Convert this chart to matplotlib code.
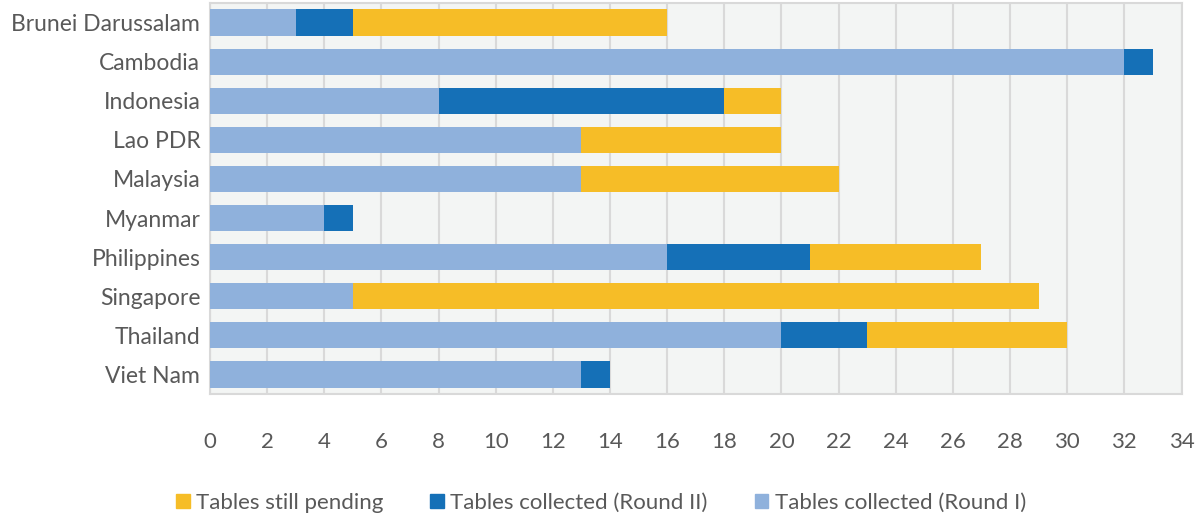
import matplotlib
matplotlib.use("Agg")
import matplotlib.pyplot as plt
from matplotlib.patches import Patch

countries = ["Brunei Darussalam", "Cambodia", "Indonesia", "Lao PDR", "Malaysia",
             "Myanmar", "Philippines", "Singapore", "Thailand", "Viet Nam"]
round1 = [3, 32, 8, 13, 13, 4, 16, 5, 20, 13]
round2 = [2, 1, 10, 0, 0, 1, 5, 0, 3, 1]
pending = [11, 0, 2, 7, 9, 0, 6, 24, 7, 0]
xticks = list(range(0, 35, 2))

c_r1 = "#8FB1DC"
c_r2 = "#1570B7"
c_pend = "#F6BD27"
txt = "#595959"
grid = "#D9D9D9"

plt.rcParams['font.family'] = ['Lato', 'DejaVu Sans']
fs = 16

fig = plt.figure(figsize=(11.95, 5.17), dpi=100)
ax = fig.add_axes([210/1195, 1-394/517, (1181.5-210)/1195, (394-3)/517])
ax.set_facecolor("#F3F5F4")

y = list(range(len(countries)))
left2 = [a for a in round1]
left3 = [a + b for a, b in zip(round1, round2)]
h = 0.67
ax.barh(y, round1, height=h, color=c_r1, zorder=3)
ax.barh(y, round2, left=left2, height=h, color=c_r2, zorder=3)
ax.barh(y, pending, left=left3, height=h, color=c_pend, zorder=3)

ax.set_ylim(len(countries) - 0.5, -0.5)
ax.set_xlim(0, 34)
ax.set_xticks(xticks)
ax.set_xticklabels([str(t) for t in xticks])
ax.set_yticks(y)
ax.set_yticklabels(countries)
ax.xaxis.grid(True, color=grid, linewidth=1.5, zorder=0)
ax.set_axisbelow(True)
for s in ax.spines.values():
    s.set_color(grid)
    s.set_linewidth(1.5)
ax.tick_params(axis='x', length=0, pad=27, labelsize=fs, labelcolor=txt)
ax.tick_params(axis='y', length=0, pad=7, labelsize=16.5, labelcolor=txt)

handles = [Patch(color=c_pend, label="Tables still pending"),
           Patch(color=c_r2, label="Tables collected (Round II)"),
           Patch(color=c_r1, label="Tables collected (Round I)")]
leg = fig.legend(handles=handles, loc='center', bbox_to_anchor=(0.503, 1-503/517),
                 ncol=3, frameon=False, fontsize=fs, handlelength=0.6, handleheight=0.6,
                 handletextpad=0.3, columnspacing=2.1)
for t in leg.get_texts():
    t.set_color(txt)

fig.savefig("out.png", dpi=100)
